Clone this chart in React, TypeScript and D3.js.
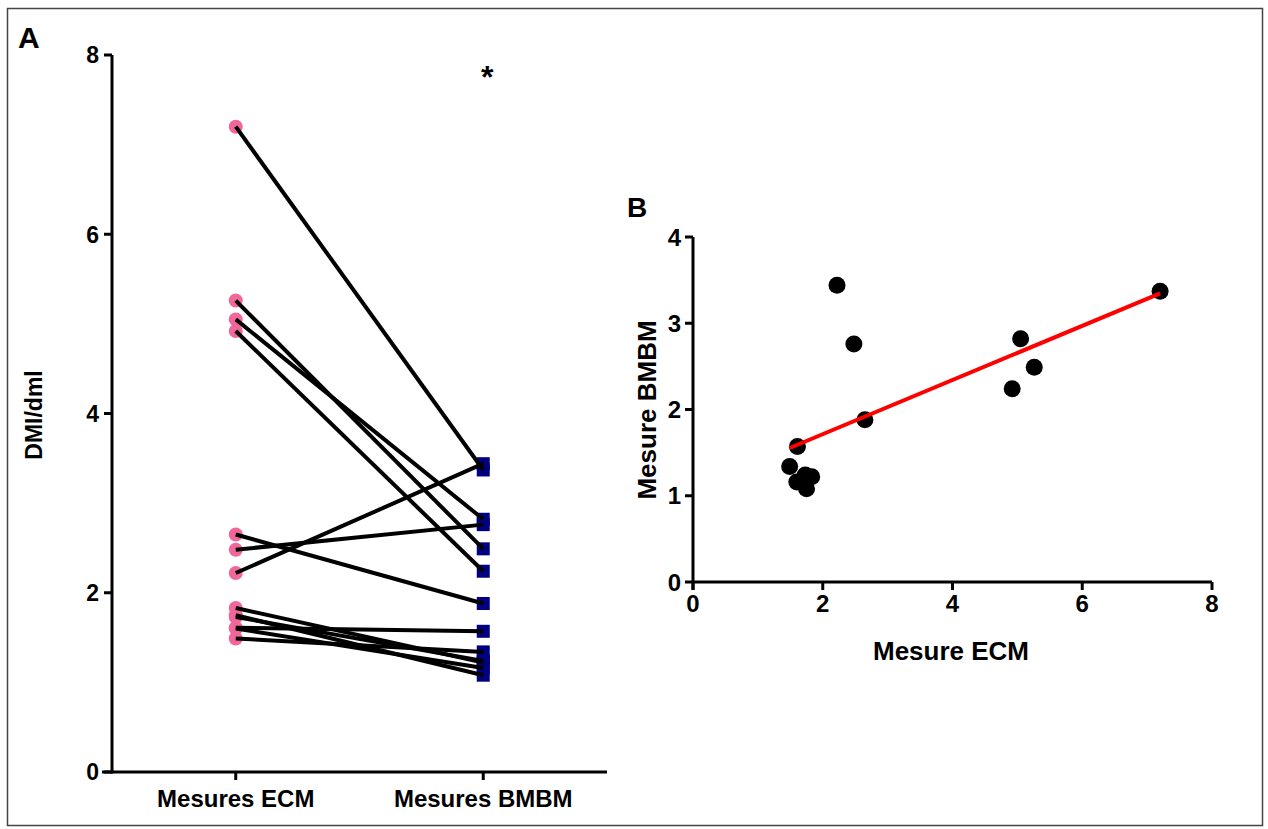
import { useEffect } from 'react'
import * as d3 from 'd3'

// paired measures, one entry per subject
const GROUPS = ['Mesures ECM', 'Mesures BMBM']
const ECM  = [7.2, 5.26, 5.05, 4.92, 2.65, 2.48, 2.22, 1.83, 1.75, 1.73, 1.61, 1.60, 1.49]
const BMBM = [3.37, 2.49, 2.82, 2.24, 1.88, 2.76, 3.44, 1.22, 1.08, 1.24, 1.57, 1.16, 1.34]
const A_TICKS = [0, 2, 4, 6, 8]
const B_YTICKS = [0, 1, 2, 3, 4]
const B_XTICKS = [0, 2, 4, 6, 8]

const FONT = '"Liberation Sans", Arial, sans-serif'
const PINK = '#F2679B'
const NAVY = '#000080'

export default function App() {
  useEffect(() => { document.body.style.margin = '0' }, [])

  // panel A scales
  const xA = d3.scalePoint<string>().domain(GROUPS).range([112, 607]).padding(0.5)
  const yA = d3.scaleLinear().domain([0, 8]).range([772, 55])

  // panel B scales
  const xB = d3.scaleLinear().domain([0, 8]).range([693, 1212])
  const yB = d3.scaleLinear().domain([0, 4]).range([582, 237])

  // least squares fit for panel B
  const mx = d3.mean(ECM)!
  const my = d3.mean(BMBM)!
  const sxy = d3.sum(ECM, (x, i) => (x - mx) * (BMBM[i] - my))
  const sxx = d3.sum(ECM, x => (x - mx) ** 2)
  const slope = sxy / sxx
  const icpt = my - slope * mx
  const [x0, x1] = d3.extent(ECM) as [number, number]
  const fitLine = d3.line<number>().x(d => xB(d)).y(d => yB(icpt + slope * d))([x0, x1])

  const xe = xA(GROUPS[0])!
  const xb = xA(GROUPS[1])!

  return (
    <svg width={1268} height={829} style={{ display: 'block', fontFamily: FONT }}>
      <rect x={0} y={0} width={1268} height={829} fill="#fff" />
      <rect x={7.5} y={8.5} width={1255} height={817} fill="none" stroke="#444" strokeWidth={1.5} />

      {/* Panel A */}
      <text x={18} y={48} fontSize={30} fontWeight="bold">A</text>
      <g stroke="#000" strokeWidth={3} fill="none">
        <line x1={112} x2={112} y1={yA(8)} y2={yA(0) + 1.5} />
        <line x1={102} x2={607} y1={yA(0)} y2={yA(0)} />
        {A_TICKS.map(t => <line key={t} x1={104} x2={112} y1={yA(t)} y2={yA(t)} />)}
        {GROUPS.map(g => <line key={g} x1={xA(g)} x2={xA(g)} y1={yA(0)} y2={yA(0) + 8} />)}
      </g>
      {A_TICKS.map(t => (
        <text key={t} x={99} y={yA(t)} dy="0.36em" textAnchor="end" fontSize={23} fontWeight="bold">{t}</text>
      ))}
      {GROUPS.map(g => (
        <text key={g} x={xA(g)} y={807} textAnchor="middle" fontSize={24} fontWeight="bold">{g}</text>
      ))}
      <text transform="translate(42,415) rotate(-90)" textAnchor="middle" fontSize={23} fontWeight="bold">DMI/dml</text>
      <text x={xb + 4} y={88} textAnchor="middle" fontSize={32} fontWeight="bold">*</text>

      {ECM.map((v, i) => <circle key={'c' + i} cx={xe} cy={yA(v)} r={7} fill={PINK} />)}
      {BMBM.map((v, i) => <rect key={'s' + i} x={xb - 6.5} y={yA(v) - 6.5} width={13} height={13} fill={NAVY} />)}
      {ECM.map((v, i) => (
        <line key={'l' + i} x1={xe} y1={yA(v)} x2={xb} y2={yA(BMBM[i])} stroke="#000" strokeWidth={4} />
      ))}

      {/* Panel B */}
      <text x={627} y={217} fontSize={28} fontWeight="bold">B</text>
      <g stroke="#000" strokeWidth={3} fill="none">
        <line x1={xB(0)} x2={xB(0)} y1={yB(4)} y2={yB(0) + 8} />
        <line x1={xB(0)} x2={xB(8)} y1={yB(0)} y2={yB(0)} />
        {B_YTICKS.map(t => <line key={t} x1={685} x2={693} y1={yB(t)} y2={yB(t)} />)}
        {B_XTICKS.map(t => <line key={t} x1={xB(t)} x2={xB(t)} y1={yB(0)} y2={yB(0) + 8} />)}
      </g>
      {B_YTICKS.map(t => (
        <text key={t} x={681} y={yB(t)} dy="0.36em" textAnchor="end" fontSize={24} fontWeight="bold">{t}</text>
      ))}
      {B_XTICKS.map(t => (
        <text key={t} x={xB(t)} y={612} textAnchor="middle" fontSize={24} fontWeight="bold">{t}</text>
      ))}
      <text x={951} y={660} textAnchor="middle" fontSize={26} fontWeight="bold">Mesure ECM</text>
      <text transform="translate(656,410) rotate(-90)" textAnchor="middle" fontSize={26} fontWeight="bold">Mesure BMBM</text>

      {ECM.map((v, i) => <circle key={'p' + i} cx={xB(v)} cy={yB(BMBM[i])} r={8.5} fill="#000" />)}
      <path d={fitLine ?? ''} stroke="#FF0000" strokeWidth={4} fill="none" />
    </svg>
  )
}
